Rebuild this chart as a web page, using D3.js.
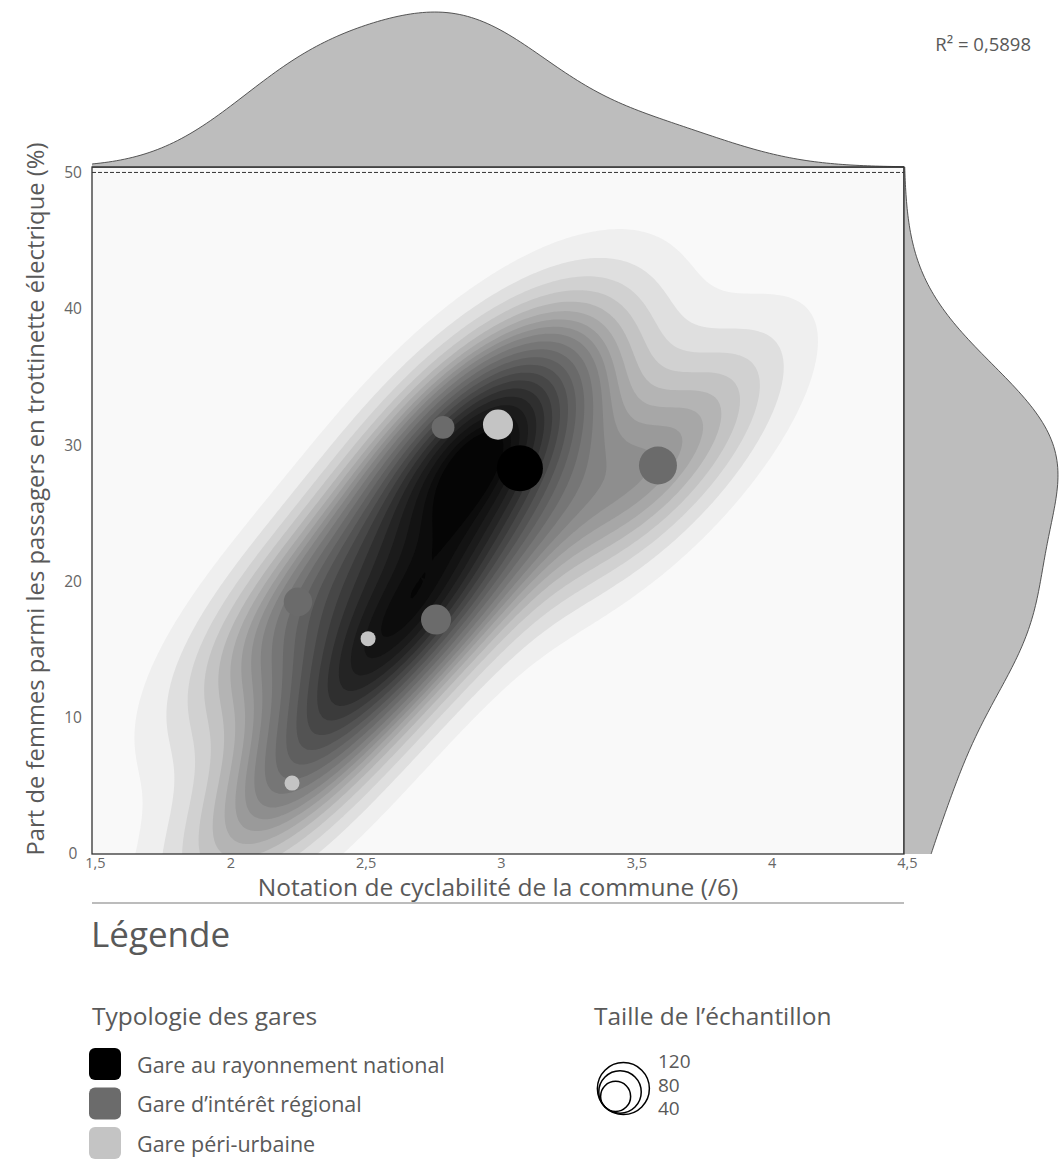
<!DOCTYPE html>
<html><head><meta charset="utf-8">
<script src="https://cdn.jsdelivr.net/npm/d3@7"></script>
<style>
body{margin:0;background:#fff;}
text{font-family:"Open Sans","Noto Sans",sans-serif;}
</style>
</head><body>
<svg id="c" width="1059" height="1160"></svg>
<script>
// ---------------- data ----------------
const stationTypes = ["national", "regional", "peri"];
const typeLabels = ["Gare au rayonnement national", "Gare d\u2019intérêt régional", "Gare péri-urbaine"];
const pointType   = ["regional", "peri", "national", "regional", "regional", "regional", "peri", "peri"];
const cyclability = [2.797, 3.00, 3.081, 3.591, 2.261, 2.771, 2.520, 2.239];
const womenShare  = [31.3, 31.5, 28.3, 28.5, 18.5, 17.2, 15.8, 5.2];
const sampleSize  = [23, 40, 94, 64, 36, 40, 10, 10];
const xTicks = [1.5, 2, 2.5, 3, 3.5, 4, 4.5];
const yTicks = [0, 10, 20, 30, 40, 50];
const sizeLegend = [120, 80, 40];
const r2Label = "R\u00B2 = 0,5898";

// ---------------- setup ----------------
const svg = d3.select("#c");
const L = 92, R = 904, T = 167, B = 854;
const x = d3.scaleLinear().domain([1.5, 4.5]).range([L, R]);
const y = d3.scaleLinear().domain([0, 50.4]).range([B, T]);
const rScale = d3.scaleSqrt().domain([0, 120]).range([0, 26]);
const typeColor = d3.scaleOrdinal().domain(stationTypes).range(["#000000", "#6b6b6b", "#c4c4c4"]);
const fmt = v => String(v).replace(".", ",");
const textCol = "#595959";

// ---------------- KDE helpers ----------------
const n = cyclability.length;
function cov(a, b) {
  const ma = d3.mean(a), mb = d3.mean(b);
  return d3.sum(a, (v, i) => (v - ma) * (b[i] - mb)) / (a.length - 1);
}
// 2D gaussian KDE (scott, full covariance)
const f2 = Math.pow(n, -2 / 6);
const kxx = cov(cyclability, cyclability) * f2, kyy = cov(womenShare, womenShare) * f2, kxy = cov(cyclability, womenShare) * f2;
const det = kxx * kyy - kxy * kxy;
const ixx = kyy / det, iyy = kxx / det, ixy = -kxy / det;
const nx = 220, ny = 220;
const gx0 = d3.min(cyclability) - 3 * Math.sqrt(kxx), gx1 = d3.max(cyclability) + 3 * Math.sqrt(kxx);
const gy0 = d3.min(womenShare) - 3 * Math.sqrt(kyy), gy1 = d3.max(womenShare) + 3 * Math.sqrt(kyy);
const sx = (gx1 - gx0) / (nx - 1), sy = (gy1 - gy0) / (ny - 1);
const grid = new Float64Array(nx * ny);
for (let j = 0; j < ny; j++) {
  const yy = gy0 + j * sy;
  for (let i = 0; i < nx; i++) {
    const xx = gx0 + i * sx;
    let s = 0;
    for (let k = 0; k < n; k++) {
      const dx = xx - cyclability[k], dy = yy - womenShare[k];
      s += Math.exp(-0.5 * (dx * dx * ixx + 2 * dx * dy * ixy + dy * dy * iyy));
    }
    grid[j * nx + i] = s / (n * 2 * Math.PI * Math.sqrt(det));
  }
}
// iso-proportion levels
const NLEV = 22, thresh = 0.042;
const sorted = Array.from(grid).sort((a, b) => b - a);
const tot = d3.sum(sorted);
const cum = []; let acc = 0;
for (const v of sorted) { acc += v; cum.push(acc / tot); }
const levels = d3.range(NLEV).map(i => {
  const p = thresh + (1 - thresh) * i / (NLEV - 1);
  let idx = d3.bisectLeft(cum, 1 - p);
  idx = Math.min(idx, sorted.length - 1);
  return sorted[idx];
}).sort((a, b) => a - b);
const lmin = levels[0], lmax = levels[levels.length - 1];
const bandLevels = levels.slice(0, -1);
const contours = d3.contours().size([nx, ny]).thresholds(bandLevels)(grid);
const proj = d3.geoTransform({
  point(px, py) { this.stream.point(x(gx0 + (px - 0.5) * sx), y(gy0 + (py - 0.5) * sy)); }
});
const cpath = d3.geoPath(proj);
const bandColor = i => {
  const mid = (levels[i] + levels[i + 1]) / 2;
  const t = Math.pow((mid - lmin) / (lmax - lmin), 0.8);
  return d3.interpolateGreys(0.06 + 0.94 * t);
};

// ---------------- plot area ----------------
const defs = svg.append("defs");
defs.append("clipPath").attr("id", "clip").append("rect").attr("x", L).attr("y", T).attr("width", R - L).attr("height", B - T);
svg.append("rect").attr("x", L).attr("y", T).attr("width", R - L).attr("height", B - T).attr("fill", "#f9f9f9");
svg.append("g").attr("clip-path", "url(#clip)")
  .selectAll("path").data(contours).join("path")
  .attr("d", cpath)
  .attr("fill", (d, i) => bandColor(i));

// dashed 50% line
svg.append("line").attr("x1", L).attr("x2", R).attr("y1", y(50)).attr("y2", y(50))
  .attr("stroke", "#333").attr("stroke-width", 1).attr("stroke-dasharray", "4,2");

// points
const pts = d3.range(n).map(i => ({x: cyclability[i], y: womenShare[i], n: sampleSize[i], t: pointType[i]}));
svg.append("g").selectAll("circle").data(pts).join("circle")
  .attr("cx", d => x(d.x)).attr("cy", d => y(d.y)).attr("r", d => rScale(d.n))
  .attr("fill", d => typeColor(d.t));

// frame
svg.append("rect").attr("x", L).attr("y", T).attr("width", R - L).attr("height", B - T)
  .attr("fill", "none").attr("stroke", "#333").attr("stroke-width", 1.3);

// ---------------- marginals ----------------
function kde1(vals, lo, hi, m) {
  const sd = Math.sqrt(cov(vals, vals));
  const bw = sd * Math.pow(vals.length, -1 / 5);
  return d3.range(m).map(i => {
    const v = lo + (hi - lo) * i / (m - 1);
    const d = d3.sum(vals, u => Math.exp(-0.5 * ((v - u) / bw) ** 2)) / (vals.length * bw * Math.sqrt(2 * Math.PI));
    return {v, d};
  });
}
const topD = kde1(cyclability, 1.5, 4.5, 200);
const rightD = kde1(womenShare, 0, 50.4, 200);
const hTop = d3.scaleLinear().domain([0, d3.max(topD, d => d.d)]).range([T, 12]);
const wRight = d3.scaleLinear().domain([0, d3.max(rightD, d => d.d)]).range([R, 1058]);
svg.append("path").datum(topD)
  .attr("d", d3.area().x(d => x(d.v)).y0(T).y1(d => hTop(d.d)).curve(d3.curveBasis))
  .attr("fill", "#bdbdbd");
svg.append("path").datum(topD)
  .attr("d", d3.line().x(d => x(d.v)).y(d => hTop(d.d)).curve(d3.curveBasis))
  .attr("fill", "none").attr("stroke", "#444").attr("stroke-width", 0.9);
svg.append("path").datum(rightD)
  .attr("d", d3.area().y(d => y(d.v)).x0(R).x1(d => wRight(d.d)).curve(d3.curveBasis))
  .attr("fill", "#bdbdbd");
svg.append("path").datum(rightD)
  .attr("d", d3.line().y(d => y(d.v)).x(d => wRight(d.d)).curve(d3.curveBasis))
  .attr("fill", "none").attr("stroke", "#444").attr("stroke-width", 0.9);
svg.append("line").attr("x1", L).attr("x2", R).attr("y1", T).attr("y2", T).attr("stroke", "#333").attr("stroke-width", 1.3);
svg.append("line").attr("x1", R).attr("x2", R).attr("y1", T).attr("y2", B).attr("stroke", "#333").attr("stroke-width", 1.3);

// ---------------- axes ----------------
const xAxis = svg.append("g").attr("transform", `translate(0,${B})`)
  .call(d3.axisBottom(x).tickValues(xTicks).tickFormat(fmt).tickSize(0).tickPadding(4));
xAxis.select(".domain").remove();
xAxis.selectAll("text").attr("font-size", 14.5).attr("fill", "#666").attr("font-family", "Open Sans").attr("dx", 3);
const yAxis = svg.append("g").attr("transform", `translate(${L},0)`)
  .call(d3.axisLeft(y).tickValues(yTicks).tickFormat(fmt).tickSize(0));
yAxis.select(".domain").remove();
yAxis.selectAll("text").attr("font-size", 15.5).attr("fill", "#666").attr("font-family", "Open Sans")
  .attr("text-anchor", "middle").attr("x", -19);

svg.append("text").attr("x", 498).attr("y", 896).attr("text-anchor", "middle")
  .attr("font-size", 24.5).attr("fill", textCol).text("Notation de cyclabilité de la commune (/6)");
svg.append("text").attr("transform", "translate(35,499) rotate(-90)").attr("text-anchor", "middle")
  .attr("dominant-baseline", "central")
  .attr("font-size", 23.8).attr("fill", textCol).text("Part de femmes parmi les passagers en trottinette électrique (%)");
svg.append("text").attr("x", 1031).attr("y", 51).attr("text-anchor", "end")
  .attr("font-size", 18.5).attr("fill", textCol).text(r2Label);

// ---------------- legend ----------------
svg.append("line").attr("x1", L).attr("x2", R).attr("y1", 903).attr("y2", 903).attr("stroke", "#a6a6a6").attr("stroke-width", 1.3);
svg.append("text").attr("x", 91).attr("y", 947).attr("font-size", 35).attr("fill", textCol).text("Légende");
svg.append("text").attr("x", 92).attr("y", 1025).attr("font-size", 24.5).attr("fill", textCol).text("Typologie des gares");
const lg = svg.append("g").selectAll("g").data(stationTypes).join("g")
  .attr("transform", (d, i) => `translate(89,${1048 + i * 39.5})`);
lg.append("rect").attr("width", 32).attr("height", 32).attr("rx", 6).attr("fill", d => typeColor(d));
lg.append("text").attr("x", 48).attr("y", 16).attr("dominant-baseline", "central")
  .attr("font-size", 21.5).attr("fill", textCol).text((d, i) => typeLabels[i]);

svg.append("text").attr("x", 594).attr("y", 1025).attr("font-size", 24.5).attr("fill", textCol).text("Taille de l\u2019échantillon");
const tp = [605, 1107];
svg.append("g").selectAll("circle").data(sizeLegend).join("circle")
  .attr("cx", d => tp[0] + rScale(d) / Math.SQRT2).attr("cy", d => tp[1] - rScale(d) / Math.SQRT2)
  .attr("r", d => rScale(d)).attr("fill", "none").attr("stroke", "#000").attr("stroke-width", 1.5);
svg.append("g").selectAll("text").data(sizeLegend).join("text")
  .attr("x", 658).attr("y", (d, i) => 1061 + i * 23.5).attr("dominant-baseline", "central")
  .attr("font-size", 19).attr("fill", textCol).text(d => d);
</script>
</body></html>
